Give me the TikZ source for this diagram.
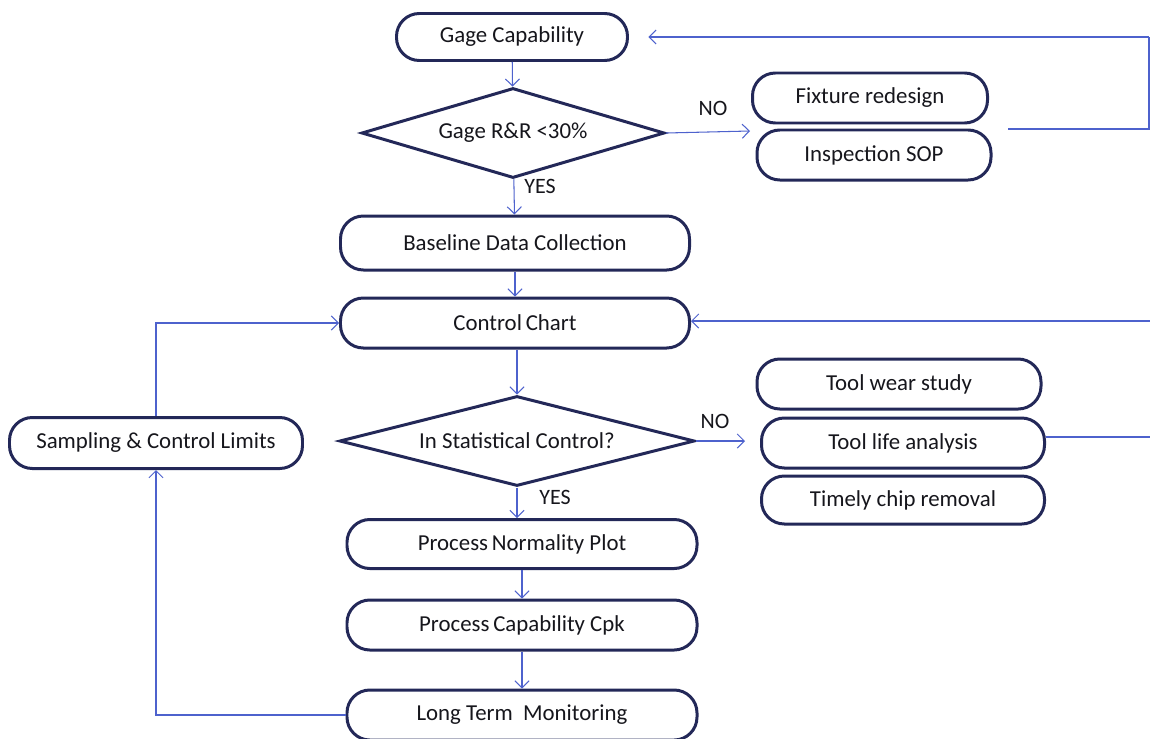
\documentclass[tikz,border=0pt]{standalone}
\usepackage{fontspec}
\setmainfont{Carlito}
\usetikzlibrary{arrows.meta,shapes.geometric}
\definecolor{boxline}{RGB}{35,40,88}
\definecolor{flow}{RGB}{78,98,205}
\definecolor{ink}{RGB}{22,22,28}
\begin{document}
\begin{tikzpicture}[x=0.02cm,y=-0.02cm,
  every node/.style={font=\fontsize{13}{15}\selectfont, text=ink},
  stepbox/.style 2 args={draw=boxline, line width=1.7pt, rectangle,
    rounded corners=13pt, minimum width=#1*0.02cm, minimum height=#2*0.02cm,
    inner sep=0pt, fill=white},
  decision/.style 2 args={draw=boxline, line width=1.7pt, diamond,
    aspect=3.6, minimum width=#1*0.02cm, minimum height=#2*0.02cm,
    inner sep=0pt, fill=white},
  flowline/.style={draw=flow, line width=0.6pt},
  flowarrow/.style={flowline, -{Straight Barb[length=4pt,width=8pt]}},
  tag/.style={font=\fontsize{12.5}{15}\selectfont}
]
\useasboundingbox (0,0) rectangle (1150,738);

% measurement system check
\node[stepbox={231}{47}] (gage) at (512,37) {Gage Capability};
\node[decision={303}{90}] (rr) at (513,133) {Gage R\&R <30\%};
\node[stepbox={235}{50}] (fixture) at (870,98) {Fixture redesign};
\node[stepbox={234}{50}] (sop) at (874,155) {Inspection SOP};

% data collection and control
\node[stepbox={349}{54}] (base) at (515,243) {Baseline Data Collection};
\node[stepbox={349}{50}] (chart) at (515,323) {Control\,Chart};
\node[decision={355}{90}] (stat) at (517,441) {In Statistical Control?};
\node[stepbox={284}{50}] (wear) at (899,384) {Tool wear study};
\node[stepbox={283}{50}] (life) at (903,443) {Tool life analysis};
\node[stepbox={283}{48}] (chip) at (903,500) {Timely chip removal};

% capability and monitoring
\node[stepbox={350}{49}] (normal) at (522,544) {Process\,Normality Plot};
\node[stepbox={350}{50}] (cpk) at (522,625) {Process\,Capability Cpk};
\node[stepbox={350}{50}] (monitor) at (522,715) {Long Term\ \ Monitoring};
\node[stepbox={293}{51}] (sampling) at (156,443) {Sampling \& Control Limits};

% branch labels
\node[tag] at (713,108) {NO};
\node[tag] at (540,186) {YES};
\node[tag] at (715,421) {NO};
\node[tag] at (555,497) {YES};

% main flow
\draw[flowarrow] (gage) -- (rr);
\draw[flowarrow] (rr) -- (base);
\draw[flowarrow] (base) -- (chart);
\draw[flowarrow] (stat.north |- chart.south) -- (stat.north);
\draw[flowarrow] (stat.south) -- (stat.south |- normal.north);
\draw[flowarrow] (normal) -- (cpk);
\draw[flowarrow] (cpk) -- (monitor);

% rework branches
\coordinate (noA) at (750,131);
\draw[flowarrow] (rr.east) -- (noA);
\coordinate (backA0) at (1008,129);
\coordinate (backA1) at (1149,129);
\coordinate (backA2) at (1149,37);
\draw[flowline] (backA0) -- (backA1) -- (backA2);
\draw[flowarrow, shorten >=11pt] (backA2) -- (gage.east);

\coordinate (noB) at (745,441);
\draw[flowarrow] (stat.east) -- (noB);
\coordinate (backB1) at (1152,437);
\coordinate (backB2) at (1152,321);
\draw[flowline] (life.east |- 0,437) -- (backB1) -- (backB2);
\draw[flowarrow] (backB2) -- (chart.east |- 0,321);

% sampling loop
\draw[flowarrow] (monitor.west) -| (sampling.south);
\draw[flowarrow] (sampling.north) |- (chart.west);
\end{tikzpicture}
\end{document}
